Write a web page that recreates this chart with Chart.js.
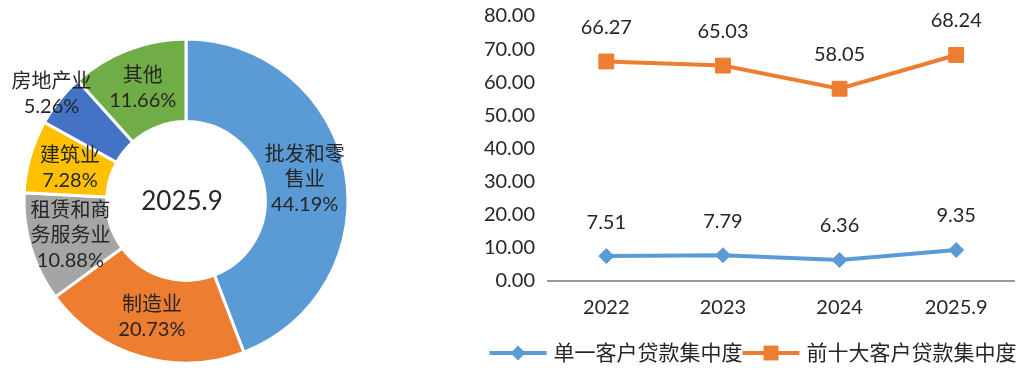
<!DOCTYPE html>
<html>
<head>
<meta charset="utf-8">
<script src="https://cdn.jsdelivr.net/npm/chart.js@4"></script>
<style>
  body { margin: 0; background: #fff; }
  #wrap { position: relative; width: 1026px; height: 370px; }
  #pie { position: absolute; left: 0; top: 0; }
  #line { position: absolute; left: 480px; top: 0; }
</style>
</head>
<body>
<div id="wrap">
  <canvas id="pie" width="372" height="370"></canvas>
  <canvas id="line" width="546" height="370"></canvas>
</div>
<script>
// loan mix by industry, 2025.9
const sectors = ["批发和零售业", "制造业", "租赁和商务服务业", "建筑业", "房地产业", "其他"];
const shares = [44.19, 20.73, 10.88, 7.28, 5.26, 11.66];
const centerLabel = "2025.9";

// concentration ratios
const years = ["2022", "2023", "2024", "2025.9"];
const singleClient = [7.51, 7.79, 6.36, 9.35];
const topTenClients = [66.27, 65.03, 58.05, 68.24];
const seriesNames = ["单一客户贷款集中度", "前十大客户贷款集中度"];

const FONT = "Lato, 'Noto Sans CJK SC', sans-serif";
const TEXT = "#262626";
const sectorColors = ["#5B9BD5", "#ED7D31", "#A5A5A5", "#FFC000", "#4472C4", "#70AD47"];
const BLUE = "#5B9BD5";
const ORANGE = "#ED7D31";

const sliceLabels = {
  id: "sliceLabels",
  afterDatasetsDraw(chart) {
    const ctx = chart.ctx;
    const arcs = chart.getDatasetMeta(0).data;
    ctx.save();
    ctx.font = "20px " + FONT;
    ctx.fillStyle = TEXT;
    ctx.textAlign = "center";
    ctx.textBaseline = "middle";
    arcs.forEach((arc, i) => {
      const p = arc.getProps(["x", "y", "startAngle", "endAngle", "innerRadius", "outerRadius"], true);
      const mid = (p.startAngle + p.endAngle) / 2;
      // thin slices get their label just outside the ring
      const r = shares[i] < 6 ? p.outerRadius + 10 : (p.innerRadius + p.outerRadius) / 2;
      const lines = sectors[i].match(/.{1,4}/g).concat(shares[i].toFixed(2) + "%");
      const cx = p.x + Math.cos(mid) * r;
      const cy = p.y + Math.sin(mid) * r;
      lines.forEach((t, k) => ctx.fillText(t, cx, cy + (k - (lines.length - 1) / 2) * 25));
    });
    ctx.font = "26px " + FONT;
    ctx.fillText(centerLabel, arcs[0].x - 4, arcs[0].y + 1);
    ctx.restore();
  }
};

new Chart(document.getElementById("pie"), {
  type: "doughnut",
  data: {
    labels: sectors,
    datasets: [{
      data: shares,
      backgroundColor: sectorColors,
      borderColor: "#fff",
      borderWidth: 3,
      hoverOffset: 0,
    }],
  },
  options: {
    responsive: false,
    animation: false,
    cutout: "49%",
    layout: { padding: { top: 37.5, bottom: 5.5, left: 22.5, right: 22.5 } },
    plugins: { legend: { display: false }, tooltip: { enabled: false } },
  },
  plugins: [sliceLabels],
});

function marker(ctx, style, x, y, r, color) {
  ctx.fillStyle = color;
  ctx.beginPath();
  if (style === "rect") {
    const s = r * Math.SQRT1_2;
    ctx.rect(x - s, y - s, 2 * s, 2 * s);
  } else {
    ctx.moveTo(x - r, y);
    ctx.lineTo(x, y - r);
    ctx.lineTo(x + r, y);
    ctx.lineTo(x, y + r);
    ctx.closePath();
  }
  ctx.fill();
}

const pointLabels = {
  id: "pointLabels",
  afterDatasetsDraw(chart) {
    const ctx = chart.ctx;
    ctx.save();
    ctx.font = "20px " + FONT;
    ctx.fillStyle = TEXT;
    ctx.textAlign = "center";
    ctx.textBaseline = "middle";
    chart.data.datasets.forEach((ds, d) => {
      chart.getDatasetMeta(d).data.forEach((pt, i) => {
        ctx.fillText(ds.data[i].toFixed(2), pt.x, pt.y - 34);
      });
    });
    ctx.restore();
  }
};

const lineLegend = {
  id: "lineLegend",
  afterDraw(chart) {
    const ctx = chart.ctx;
    ctx.save();
    ctx.font = "21px " + FONT;
    ctx.textBaseline = "middle";
    const sym = 57, gap = 7;
    const widths = chart.data.datasets.map(ds => sym + gap + ctx.measureText(ds.label).width);
    let x = (chart.width - widths.reduce((a, b) => a + b, 0)) / 2;
    const y = chart.height - 17;
    chart.data.datasets.forEach((ds, i) => {
      ctx.strokeStyle = ds.borderColor;
      ctx.lineWidth = 4;
      ctx.beginPath();
      ctx.moveTo(x, y);
      ctx.lineTo(x + sym, y);
      ctx.stroke();
      marker(ctx, ds.pointStyle, x + sym / 2, y, ds.pointRadius, ds.borderColor);
      ctx.fillStyle = TEXT;
      ctx.fillText(ds.label, x + sym + gap, y);
      x += widths[i];
    });
    ctx.restore();
  }
};

new Chart(document.getElementById("line"), {
  type: "line",
  data: {
    labels: years,
    datasets: [
      {
        label: seriesNames[0],
        data: singleClient,
        borderColor: BLUE,
        backgroundColor: BLUE,
        borderWidth: 4,
        pointStyle: "rectRot",
        pointRadius: 7.5,
        pointHoverRadius: 7.5,
        pointBorderWidth: 1,
      },
      {
        label: seriesNames[1],
        data: topTenClients,
        borderColor: ORANGE,
        backgroundColor: ORANGE,
        borderWidth: 4,
        pointStyle: "rect",
        pointRadius: 10.5,
        pointHoverRadius: 10.5,
        pointBorderWidth: 1,
      },
    ],
  },
  options: {
    responsive: false,
    animation: false,
    layout: { padding: { top: 16, right: 0, bottom: 49, left: 0 } },
    plugins: { legend: { display: false }, tooltip: { enabled: false } },
    scales: {
      x: {
        offset: true,
        grid: { display: false, drawTicks: false },
        border: { display: true, color: "#999", width: 2 },
        ticks: { color: TEXT, font: { family: FONT, size: 20 }, padding: 15 },
        afterFit: (a) => { a.height = 40; },
      },
      y: {
        min: 0,
        max: 80,
        grid: { display: false, drawTicks: false },
        border: { display: false },
        ticks: {
          stepSize: 10,
          color: TEXT,
          font: { family: FONT, size: 20 },
          padding: 13,
          callback: (v) => v.toFixed(2),
        },
        afterFit: (a) => {
          a.width = 68;
          // let the layout padding alone decide where 80 sits
          a.paddingTop = 0;
          a.paddingBottom = 0;
        },
      },
    },
  },
  plugins: [pointLabels, lineLegend],
});
</script>
</body>
</html>
